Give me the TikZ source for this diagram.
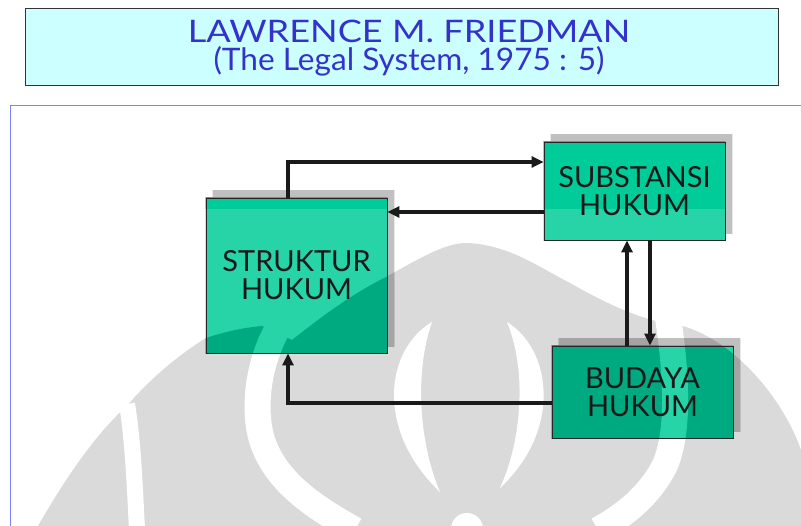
\documentclass[tikz,border=0pt]{standalone}
\usepackage{fontspec}
\setmainfont{Lato}
\usetikzlibrary{arrows.meta}
\definecolor{titlefill}{HTML}{CCFFFF}
\definecolor{titleblue}{HTML}{3333CC}
\definecolor{framecol}{HTML}{8080FF}
\definecolor{tealL}{HTML}{26D4A8}
\definecolor{tealT}{HTML}{00CC99}
\definecolor{tealD}{HTML}{00AA80}
\definecolor{shadL}{HTML}{C0C0C0}
\definecolor{shadD}{HTML}{A4A4A4}
\definecolor{wmgray}{HTML}{DADADA}
\definecolor{arrowcol}{HTML}{1A1A1A}
\pgfdeclarelayer{bottom}
\pgfdeclarelayer{background}
\pgfsetlayers{bottom,background,main}
\def\wmbase{(38,526) .. controls (70,470) and (100,430) .. (127,406)
  .. controls (140,390) and (170,360) .. (206,338) .. controls (230,330) and (250,327) .. (262,326)
  -- (292,340) .. controls (320,318) and (350,295) .. (386,277)
  .. controls (420,258) and (445,243) .. (467,243) .. controls (510,245) and (540,268) .. (570,283)
  .. controls (600,300) and (630,315) .. (660,322) .. controls (720,325) and (780,390) .. (801,450)
  -- (801,526) -- cycle}
\newcommand\wmlayer[2]{%
  \fill[#1] \wmbase;
  \draw[#2, line width=16pt] (127,404) .. controls (133,440) and (135,490) .. (137,530);
  \draw[#2, line width=26pt] (300,300) .. controls (262,335) and (250,400) .. (262,440)
     .. controls (275,480) and (310,505) .. (355,530);
  \draw[#2, line width=26pt] (668,318) .. controls (676,370) and (680,430) .. (665,465)
     .. controls (650,495) and (625,515) .. (598,530);
  \fill[#2] (432,322) .. controls (385,350) and (375,430) .. (440,492)
     .. controls (418,440) and (415,370) .. (432,322) -- cycle;
  \fill[#2] (507,322) .. controls (552,350) and (562,430) .. (500,488)
     .. controls (522,440) and (527,370) .. (507,322) -- cycle;
  \fill[#2] (467,529) circle (16);
}
\tikzset{
  hbox/.style={draw=black!85, line width=0.9pt, minimum width=181pt, align=center,
    font=\fontsize{29}{28}\selectfont, text=black!90, inner sep=0pt},
  arr/.style={draw=arrowcol, line width=3.4pt, -{Triangle[length=12pt,width=11pt]}},
  titletext/.style={text=titleblue, font=\fontsize{31}{28}\selectfont, align=center, inner sep=0pt},
}
\newcommand\boxfill[1]{%
  \begin{scope}
    \clip ([shift={(7,-7)}]#1.south west) rectangle ([shift={(7,-7)}]#1.north east);
    \fill[shadL] (0,0) rectangle (801,526);
    \wmlayer{shadD}{shadL}
  \end{scope}
  \begin{scope}
    \clip (#1.south west) rectangle (#1.north east);
    \fill[tealL] (0,0) rectangle (801,526);
    \fill[tealT] (0,0) rectangle (801,209);
    \wmlayer{tealD}{tealL}
  \end{scope}}
\begin{document}
\begin{tikzpicture}[x=1pt,y=-1pt]
\useasboundingbox (0,0) rectangle (801,526);
\begin{pgfonlayer}{bottom}
\fill[white] (0,0) rectangle (801,526);
\begin{scope}
\clip (10.5,105.5) rectangle (801,526);
\wmlayer{wmgray}{white}
\end{scope}
\draw[framecol, line width=0.9pt] (10.5,526) -- (10.5,105.5) -- (801,105.5);
\end{pgfonlayer}
% title
\draw[black!80, fill=titlefill, line width=0.9pt] (25.5,8.5) rectangle (778.5,85.5);
\node[titletext] (title) at (409,48)
  {\scalebox{1.165}[1]{LAWRENCE M. FRIEDMAN}\\\scalebox{1.02}[1]{(The Legal System, 1975 : 5)}};
% boxes
\node[hbox, minimum height=155pt] (struktur) at (296.5,275.5) {STRUKTUR\\HUKUM};
\node[hbox, minimum height=98pt] (substansi) at (634.5,191) {SUBSTANSI\\HUKUM};
\node[hbox, minimum height=92pt] (budaya) at (642.5,392) {BUDAYA\\HUKUM};
\begin{pgfonlayer}{background}
\boxfill{struktur}
\boxfill{substansi}
\boxfill{budaya}
\end{pgfonlayer}
% connectors
\draw[arr] ([xshift=-8.5pt]struktur.north) |- ([yshift=29pt]substansi.west);
\draw[arr] ([yshift=-21pt]substansi.west) -- ([yshift=-21pt]substansi.west -| struktur.east);
\draw[arr] ([xshift=-15.5pt]budaya.north) -- ([xshift=-15.5pt]budaya.north |- substansi.south);
\coordinate (dtop) at ([xshift=7.5pt]budaya.north |- substansi.south);
\draw[arr] (dtop) -- ([xshift=7.5pt]budaya.north);
\draw[arr] ([yshift=-11pt]budaya.west) -| ([xshift=-8.5pt]struktur.south);
\end{tikzpicture}
\end{document}
